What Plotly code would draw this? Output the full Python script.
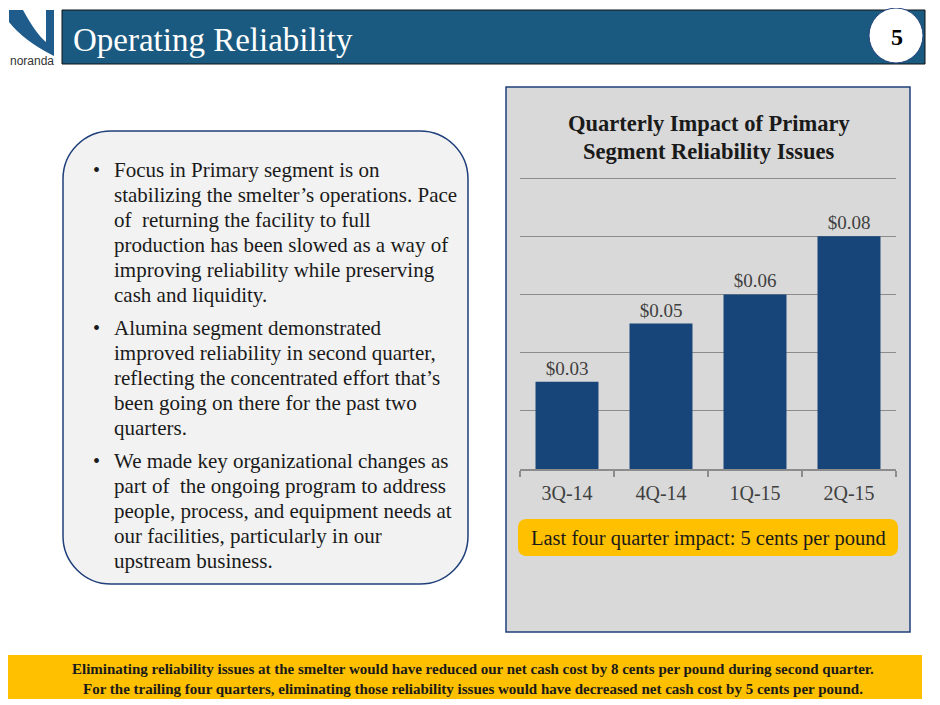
import plotly.graph_objects as go

# chart data
quarters = ["3Q-14", "4Q-14", "1Q-15", "2Q-15"]
impact = [0.03, 0.05, 0.06, 0.08]

chart_title = ["Quarterly Impact of Primary", "Segment Reliability Issues"]
callout = "Last four quarter impact: 5 cents per pound"

bullets = [
    ["Focus in Primary segment is on",
     "stabilizing the smelter\u2019s operations. Pace",
     "of  returning the facility to full",
     "production has been slowed as a way of",
     "improving reliability while preserving",
     "cash and liquidity."],
    ["Alumina segment demonstrated",
     "improved reliability in second quarter,",
     "reflecting the concentrated effort that\u2019s",
     "been going on there for the past two",
     "quarters."],
    ["We made key organizational changes as",
     "part of  the ongoing program to address",
     "people, process, and equipment needs at",
     "our facilities, particularly in our",
     "upstream business."],
]

footer = [
    "Eliminating reliability issues at the smelter would have reduced our net cash cost by 8 cents per pound during second quarter.",
    "For the trailing four quarters, eliminating those reliability issues would have decreased net cash cost by 5 cents per pound.",
]

# page body has an 8px margin, so the figure is drawn 8px in from the corner
OFF = 8
W, H = 940 - OFF, 705 - OFF
SERIF = "Liberation Serif, Times New Roman, serif"
NAVY = "#17457A"
BORDER = "#1F3F7A"
GOLD = "#FFC000"


def px(x):
    return (x - OFF) / W


def py(y):
    return 1 - (y - OFF) / H


def path(cmds):
    out = ""
    for cmd, ps in cmds:
        out += cmd + " ".join("%.5f,%.5f" % (px(a), py(b)) for a, b in ps) + " "
    return out + "Z"


def rrect(x0, y0, x1, y1, r):
    k = 0.5523 * r
    return path([
        ("M", [(x0 + r, y0)]),
        ("L", [(x1 - r, y0)]),
        ("C", [(x1 - r + k, y0), (x1, y0 + r - k), (x1, y0 + r)]),
        ("L", [(x1, y1 - r)]),
        ("C", [(x1, y1 - r + k), (x1 - r + k, y1), (x1 - r, y1)]),
        ("L", [(x0 + r, y1)]),
        ("C", [(x0 + r - k, y1), (x0, y1 - r + k), (x0, y1 - r)]),
        ("L", [(x0, y0 + r)]),
        ("C", [(x0, y0 + r - k), (x0 + r - k, y0), (x0 + r, y0)]),
    ])


fig = go.Figure(go.Bar(
    x=quarters, y=impact, width=0.67,
    marker=dict(color=NAVY, line=dict(width=0)),
    texttemplate="$%{y:.2f}", textposition="outside",
    textfont=dict(family=SERIF, size=19, color="#404040"),
    cliponaxis=False, hoverinfo="skip",
))

shapes = []
# header bar, page number circle
shapes.append(dict(type="rect", xref="paper", yref="paper", x0=px(62), x1=px(925), y0=py(64), y1=py(10),
                   fillcolor="#1B5A80", line=dict(color="#111111", width=1), layer="below"))
shapes.append(dict(type="circle", xref="paper", yref="paper", x0=px(869), x1=px(923), y0=py(63), y1=py(8),
                   fillcolor="white", line=dict(color=BORDER, width=1), layer="below"))
# logo
shapes.append(dict(type="path", xref="paper", yref="paper", layer="below",
                   path=path([("M", [(9, 10)]), ("L", [(23, 10)]), ("Q", [(36, 34), (46, 42)]),
                              ("L", [(46, 10)]), ("L", [(54, 10)]), ("L", [(54, 56)]),
                              ("Q", [(24, 41), (9, 22)])]),
                   fillcolor="#1F5C8B", line=dict(width=0)))
# left text box
shapes.append(dict(type="path", xref="paper", yref="paper", layer="below",
                   path=rrect(63, 131, 468, 584, 48),
                   fillcolor="#F2F2F2", line=dict(color=BORDER, width=1.5)))
# chart panel
shapes.append(dict(type="rect", xref="paper", yref="paper", x0=px(506), x1=px(910), y0=py(632), y1=py(87),
                   fillcolor="#D9D9D9", line=dict(color=BORDER, width=1.5), layer="below"))
# callout
shapes.append(dict(type="path", xref="paper", yref="paper", layer="below",
                   path=rrect(518, 519, 898, 556, 8),
                   fillcolor=GOLD, line=dict(width=0)))
# footer bar
shapes.append(dict(type="rect", xref="paper", yref="paper", x0=px(8), x1=px(922), y0=py(699), y1=py(655),
                   fillcolor=GOLD, line=dict(width=0), layer="below"))

ann = []


def text(t, x, y, size, color="#1a1a1a", anchor="left", bold=False, family=SERIF):
    if bold:
        t = "<b>" + t + "</b>"
    ann.append(dict(text=t, x=px(x), y=py(y), xref="paper", yref="paper", showarrow=False,
                    xanchor=anchor, yanchor="middle", font=dict(family=family, size=size, color=color)))


text("Operating Reliability", 71, 40, 33, color="white")
text("5", 897, 37, 24, color="#000000", anchor="center", bold=True)
text("noranda", 8, 61, 12, color="#333333", family="Liberation Sans, Arial, sans-serif")

for i, line in enumerate(chart_title):
    text(line, 709, 124 + 28 * i, 22.5, anchor="center", bold=True)

text(callout, 708, 538, 20.5, anchor="center")

starts = [170, 328, 461]
for b, lines in enumerate(bullets):
    text("\u2022", 96, starts[b], 20, anchor="center")
    for j, line in enumerate(lines):
        text(line, 112, starts[b] + 25 * j, 21)

for i, line in enumerate(footer):
    text(line, 473, 669 + 20 * i, 15, anchor="center", bold=True)

fig.update_layout(
    width=W, height=H, margin=dict(l=0, r=0, t=0, b=0),
    paper_bgcolor="white", plot_bgcolor="rgba(0,0,0,0)",
    showlegend=False, shapes=shapes, annotations=ann,
    xaxis=dict(domain=[px(520), px(896)], showline=True, linecolor="#8C8C8C", linewidth=1.5,
               ticks="outside", tickson="boundaries", ticklen=6, tickcolor="#8C8C8C", tickwidth=1.5,
               ticklabelstandoff=5,
               tickfont=dict(family=SERIF, size=20, color="#404040"), showgrid=False, fixedrange=True),
    yaxis=dict(domain=[py(469), py(175.1)], range=[0, 0.101], dtick=0.02, showticklabels=False,
               gridcolor="#8C8C8C", gridwidth=1, zeroline=False, showline=False, fixedrange=True),
)

fig.write_html("out.html")
